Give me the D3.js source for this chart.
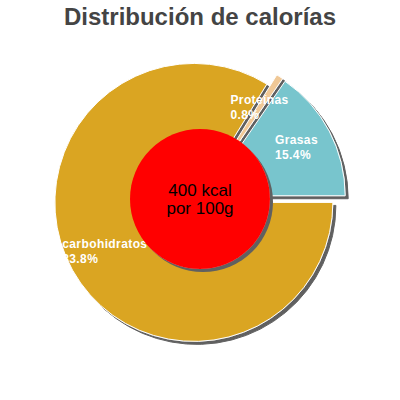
<!DOCTYPE html>
<html>
<head>
<meta charset="utf-8">
<script src="https://cdn.jsdelivr.net/npm/d3@7"></script>
<style>
  body { margin: 0; background: #fff; }
  svg { display: block; font-family: "Liberation Sans", Arial, sans-serif; }
</style>
</head>
<body>
<div id="chart"></div>
<script>
const categories = ['carbohidratos', 'Proteínas', 'Grasas'];
const percents = [83.8, 0.8, 15.4];
const sliceColors = ['#daa520', '#f0c896', '#78c5cd'];
const centerLines = ['400 kcal', 'por 100g'];
const title = 'Distribución de calorías';

const width = 400, height = 400;
const cx = 200, cy = 199;
const radius = 139, explode = 7, holeRadius = 70;

const svg = d3.select('#chart').append('svg')
  .attr('width', width).attr('height', height);

// drop shadow like the original
const defs = svg.append('defs');
const shadow = defs.append('filter').attr('id', 'shadow')
  .attr('x', '-20%').attr('y', '-20%').attr('width', '140%').attr('height', '140%');
shadow.append('feDropShadow')
  .attr('dx', 3).attr('dy', 3).attr('stdDeviation', 0.4)
  .attr('flood-color', '#606060').attr('flood-opacity', 1);

svg.append('text')
  .attr('x', width / 2).attr('y', 25)
  .attr('text-anchor', 'middle')
  .attr('font-size', 24).attr('font-weight', 'bold')
  .attr('fill', '#444')
  .text(title);

const data = categories.map((name, i) => ({ name, value: percents[i], color: sliceColors[i] }));

// carbs start at 3 o'clock and go clockwise
const pie = d3.pie().sort(null).value((d) => d.value)
  .startAngle(Math.PI / 2).endAngle(Math.PI / 2 + 2 * Math.PI);
const arcs = pie(data);
const arc = d3.arc().innerRadius(0).outerRadius(radius);

const g = svg.append('g').attr('transform', `translate(${cx},${cy})`);

const offset = (d, r) => {
  const a = (d.startAngle + d.endAngle) / 2;
  return [Math.sin(a) * r, -Math.cos(a) * r];
};

g.selectAll('path.slice').data(arcs)
  .join('path')
  .attr('class', 'slice')
  .attr('d', arc)
  .attr('transform', (d) => `translate(${offset(d, explode)})`)
  .attr('fill', (d) => d.data.color)
  .attr('stroke', '#fff').attr('stroke-width', 1)
  .attr('filter', 'url(#shadow)');

// labels: two lines, left aligned, block centred on the slice
const labelLayer = g.append('g');
arcs.forEach((d) => {
  const [ox, oy] = offset(d, explode + 102);
  const t = labelLayer.append('text')
    .attr('fill', '#fff').attr('font-size', 12).attr('font-weight', 'bold')
    .attr('letter-spacing', 0.4);
  t.append('tspan').attr('dy', 0).text(d.data.name);
  t.append('tspan').attr('dy', 15).text(`${d.data.value}%`);
  const w = d3.max(t.selectAll('tspan').nodes(), (n) => n.getComputedTextLength());
  t.selectAll('tspan').attr('x', ox - w / 2);
  t.attr('y', oy - 4);
});

g.append('circle')
  .attr('r', holeRadius)
  .attr('fill', '#ff0000')
  .attr('filter', 'url(#shadow)');

centerLines.forEach((line, i) => {
  g.append('text')
    .attr('text-anchor', 'middle')
    .attr('font-size', 17).attr('fill', '#000')
    .attr('x', 0).attr('y', -3 + i * 18)
    .text(line);
});
</script>
</body>
</html>
